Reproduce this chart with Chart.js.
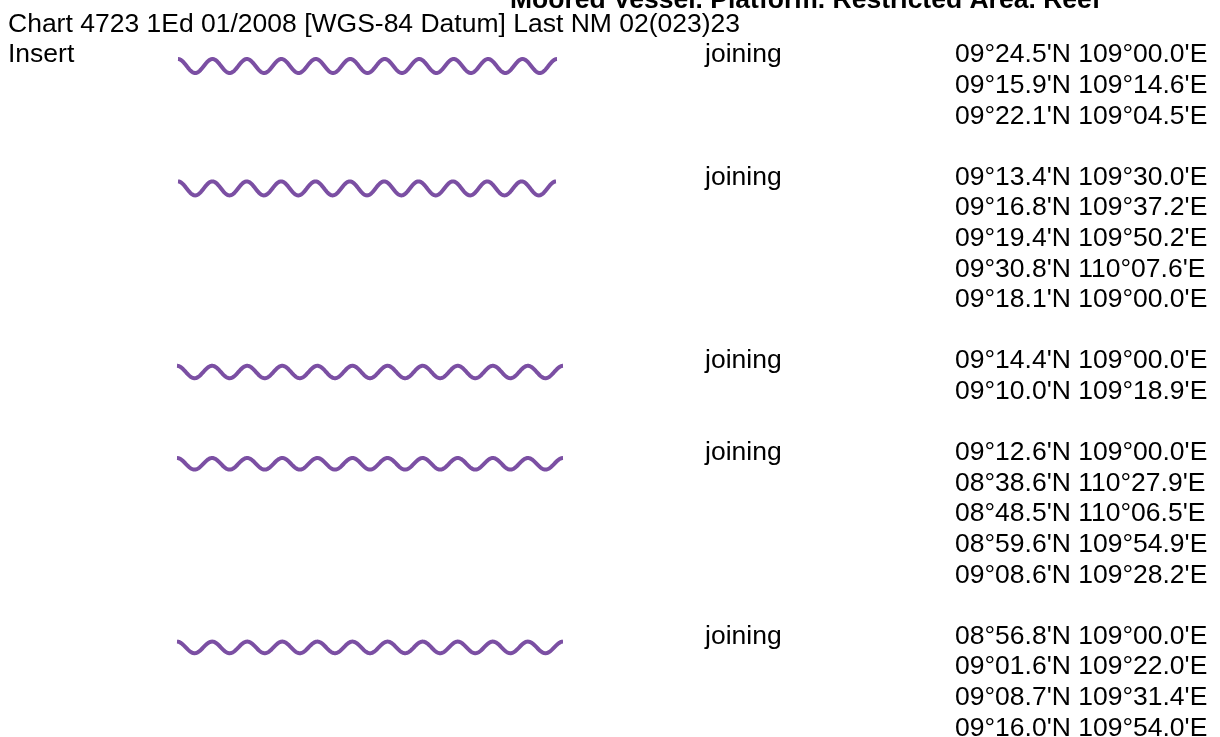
<!DOCTYPE html>
<html><head><meta charset="utf-8">
<script src="https://cdn.jsdelivr.net/npm/chart.js@4/dist/chart.umd.min.js"></script>
<style>html,body{margin:0;padding:0;background:#fff;}#wrap{width:1220px;height:737px;position:relative;}</style>
</head><body><div id="wrap"><canvas id="c"></canvas></div>
<script>
// ---- data ----
const titleText = "Moored Vessel. Platform. Restricted Area. Reef";
const headerText = "Chart 4723 1Ed 01/2008 [WGS-84 Datum] Last NM 02(023)23";
const insertLabel = "Insert";
const joinLabel = "joining";
const area1 = ["09°24.5'N 109°00.0'E", "09°15.9'N 109°14.6'E", "09°22.1'N 109°04.5'E"];
const area2 = ["09°13.4'N 109°30.0'E", "09°16.8'N 109°37.2'E", "09°19.4'N 109°50.2'E", "09°30.8'N 110°07.6'E", "09°18.1'N 109°00.0'E"];
const area3 = ["09°14.4'N 109°00.0'E", "09°10.0'N 109°18.9'E"];
const area4 = ["09°12.6'N 109°00.0'E", "08°38.6'N 110°27.9'E", "08°48.5'N 110°06.5'E", "08°59.6'N 109°54.9'E", "09°08.6'N 109°28.2'E"];
const area5 = ["08°56.8'N 109°00.0'E", "09°01.6'N 109°22.0'E", "09°08.7'N 109°31.4'E", "09°16.0'N 109°54.0'E"];
const areas = [area1, area2, area3, area4, area5];

// ---- layout ----
const L = {
  font: '"Liberation Sans", Arial, sans-serif', size: 26.5,
  titleX: 510, titleBase: 8,
  headerX: 8,
  labelX: 8, joinX: 705, coordX: 955,
  row0: 53, rowH: 30.6,
  waveOff: 13,
  waveX: [[178, 557], [178, 556], [177, 563], [177, 563], [177, 563]],
  waveA: [7, 7, 6.2, 5.8, 5.8],
  waves: 11, color: '#7b4fa3', lw: 4
};
// first text line index of each area (one blank line between areas)
const startLine = [];
areas.reduce((acc, a) => { startLine.push(acc); return acc + a.length + 1; }, 0);
const rowY = (line) => L.row0 + line * L.rowH;

const datasets = areas.map((a, i) => ({
  label: 'area ' + (i + 1),
  data: [{x: L.waveX[i][0], y: rowY(startLine[i]) + L.waveOff}, {x: L.waveX[i][1], y: rowY(startLine[i]) + L.waveOff}],
  borderColor: 'rgba(0,0,0,0)', borderWidth: 0, pointRadius: 0, showLine: true
}));

const wavePlugin = {
  id: 'wave',
  afterDatasetsDraw(chart) {
    const ctx = chart.ctx;
    chart.data.datasets.forEach((ds, i) => {
      const pts = chart.getDatasetMeta(i).data;
      const x0 = pts[0].x, x1 = pts[1].x, yc = pts[0].y;
      const A = L.waveA[i], P = (x1 - x0) / L.waves;
      ctx.save();
      ctx.strokeStyle = L.color; ctx.lineWidth = L.lw; ctx.lineJoin = 'round'; ctx.lineCap = 'butt';
      ctx.beginPath();
      for (let x = x0; x <= x1 + 0.01; x += 0.5) {
        const y = yc - A * Math.cos(2 * Math.PI * (x - x0) / P);
        if (x === x0) ctx.moveTo(x, y); else ctx.lineTo(x, y);
      }
      ctx.stroke();
      ctx.restore();
    });
  }
};

const textPlugin = {
  id: 'texts',
  afterDraw(chart) {
    const ctx = chart.ctx, xs = chart.scales.x, ys = chart.scales.y;
    const off = L.size * 0.716 / 2;
    const put = (t, x, yBase, bold) => {
      ctx.save();
      ctx.font = (bold ? 'bold ' : '') + L.size + 'px ' + L.font;
      ctx.fillStyle = '#000'; ctx.textBaseline = 'alphabetic'; ctx.textAlign = 'left';
      ctx.fillText(t, xs.getPixelForValue(x), ys.getPixelForValue(yBase));
      ctx.restore();
    };
    put(titleText, L.titleX, L.titleBase, true);
    put(headerText, L.headerX, rowY(-1) + off);
    put(insertLabel, L.labelX, rowY(0) + off);
    areas.forEach((a, i) => {
      put(joinLabel, L.joinX, rowY(startLine[i]) + off);
      a.forEach((s, j) => put(s, L.coordX, rowY(startLine[i] + j) + off));
    });
  }
};

new Chart(document.getElementById('c'), {
  type: 'scatter',
  data: { datasets },
  options: {
    animation: false, responsive: true, maintainAspectRatio: false,
    layout: { padding: 0 },
    scales: {
      x: { type: 'linear', min: 0, max: 1220, display: false },
      y: { type: 'linear', min: 0, max: 737, reverse: true, display: false }
    },
    plugins: { legend: { display: false }, tooltip: { enabled: false } }
  },
  plugins: [wavePlugin, textPlugin]
});
</script></body></html>
